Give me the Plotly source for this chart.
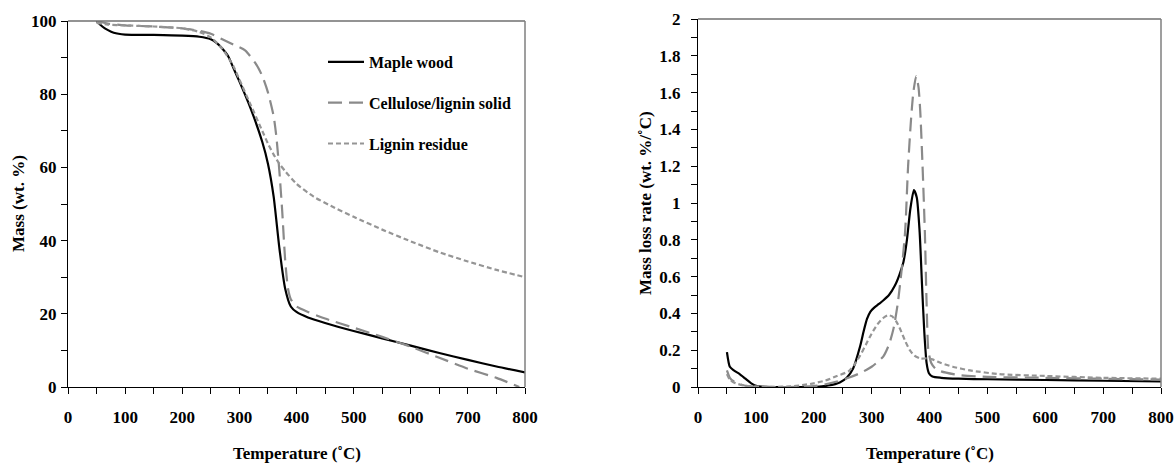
import plotly.graph_objects as go

# ---------------- TG data (Mass, wt.%) ----------------
tg_maple_T = [50, 60, 70, 80, 100, 150, 200, 230, 250, 260, 270, 280, 290, 300, 320, 340, 350, 360, 370, 380, 390, 400, 420, 450, 500, 550, 600, 650, 700, 750, 800]
tg_maple_m = [100, 98.5, 97.5, 96.8, 96.3, 96.2, 96.0, 95.7, 95.0, 94.0, 92.5, 90.5, 87.0, 83.5, 76.0, 67.0, 61.0, 52.0, 38.0, 27.0, 22.0, 20.5, 19.0, 17.5, 15.3, 13.3, 11.3, 9.3, 7.4, 5.6, 4.0]

tg_cell_T = [50, 70, 100, 150, 200, 230, 250, 270, 290, 310, 330, 340, 350, 360, 365, 370, 375, 380, 385, 390, 400, 420, 450, 500, 550, 600, 650, 700, 750, 790]
tg_cell_m = [100, 99.3, 98.8, 98.5, 98.0, 97.3, 96.5, 95.0, 93.5, 92.0, 88.0, 85.0, 80.5, 74.0, 68.0, 59.0, 48.0, 35.0, 27.0, 24.0, 22.0, 20.5, 18.7, 16.2, 13.7, 11.0, 8.0, 5.0, 2.5, 0.0]

tg_lig_T = [50, 70, 100, 150, 200, 230, 250, 270, 290, 300, 320, 340, 350, 360, 370, 380, 400, 430, 460, 500, 550, 600, 650, 700, 750, 800]
tg_lig_m = [99.5, 99.0, 98.8, 98.5, 98.0, 97.0, 95.5, 92.5, 87.5, 84.0, 77.0, 70.0, 66.5, 63.5, 61.0, 59.0, 55.5, 52.0, 49.5, 46.5, 43.0, 39.8, 36.8, 34.3, 32.0, 30.0]

# ---------------- DTG data (Mass loss rate, wt.%/°C) ----------------
dtg_maple_T = [50, 55, 62, 72, 82, 92, 102, 115, 150, 200, 225, 245, 257, 268, 280, 286, 292, 298, 304, 312, 320, 330, 340, 348, 355, 361, 367, 373, 378, 383, 387, 391, 395, 399, 405, 420, 450, 500, 600, 700, 800]
dtg_maple_v = [0.19, 0.11, 0.09, 0.07, 0.045, 0.02, 0.005, 0.001, 0.0, 0.0, 0.008, 0.025, 0.05, 0.1, 0.22, 0.3, 0.37, 0.41, 0.43, 0.45, 0.47, 0.5, 0.55, 0.61, 0.68, 0.8, 0.97, 1.07, 1.03, 0.84, 0.56, 0.3, 0.13, 0.075, 0.057, 0.05, 0.045, 0.042, 0.038, 0.034, 0.03]

dtg_cell_T = [50, 55, 62, 72, 85, 100, 150, 200, 220, 240, 260, 280, 300, 320, 330, 338, 345, 352, 358, 363, 368, 372, 377, 381, 384, 388, 392, 395, 398, 403, 410, 420, 450, 500, 600, 700, 800]
dtg_cell_v = [0.09, 0.05, 0.03, 0.015, 0.005, 0.001, 0.0, 0.005, 0.015, 0.03, 0.05, 0.075, 0.11, 0.165, 0.23, 0.32, 0.45, 0.64, 0.85, 1.2, 1.45, 1.6, 1.69, 1.63, 1.5, 1.2, 0.84, 0.45, 0.2, 0.13, 0.1, 0.085, 0.065, 0.055, 0.05, 0.045, 0.04]

dtg_lig_T = [50, 55, 65, 80, 100, 130, 160, 180, 200, 220, 240, 260, 270, 280, 290, 300, 310, 320, 328, 335, 342, 350, 358, 366, 374, 384, 395, 405, 420, 440, 470, 520, 600, 700, 800]
dtg_lig_v = [0.07, 0.04, 0.02, 0.008, 0.003, 0.001, 0.003, 0.01, 0.02, 0.035, 0.06, 0.085, 0.12, 0.17, 0.23, 0.29, 0.34, 0.375, 0.39, 0.385, 0.36, 0.31, 0.25, 0.2, 0.17, 0.155, 0.155, 0.15, 0.13, 0.11, 0.09, 0.07, 0.06, 0.05, 0.045]

series_names = ["Maple wood", "Cellulose/lignin solid", "Lignin residue"]

W, H = 1175, 466
FONT = "Liberation Serif"
BLACK = "#000000"
GREY_D = "#8a8a8a"
GREY_S = "#959595"

styles = [
    dict(color=BLACK, width=2.2, dash="solid"),
    dict(color=GREY_D, width=2.2, dash="14px,7px"),
    dict(color=GREY_S, width=2.2, dash="5px,3px"),
]

fig = go.Figure()

tg = [(tg_maple_T, tg_maple_m), (tg_cell_T, tg_cell_m), (tg_lig_T, tg_lig_m)]
dtg = [(dtg_maple_T, dtg_maple_v), (dtg_cell_T, dtg_cell_v), (dtg_lig_T, dtg_lig_v)]

for i, (x, y) in enumerate(tg):
    fig.add_trace(go.Scatter(x=x, y=y, mode="lines", name=series_names[i],
                             legendgroup=f"g{i}", showlegend=True,
                             line=dict(shape="spline", smoothing=0.6, **styles[i]),
                             xaxis="x", yaxis="y"))
for i, (x, y) in enumerate(dtg):
    fig.add_trace(go.Scatter(x=x, y=y, mode="lines", name=series_names[i],
                             legendgroup=f"g{i}", showlegend=False,
                             line=dict(shape="spline", smoothing=0.6, **styles[i]),
                             xaxis="x2", yaxis="y2"))

def px_x(a, b):
    return [a / W, b / W]

def px_y(top, bottom):
    return [1 - bottom / H, 1 - top / H]

tickfont = dict(family=FONT, size=17, color=BLACK, weight="bold")

common_axis = dict(showgrid=False, zeroline=False, showline=True, linecolor=BLACK, linewidth=1.3,
                   ticks="outside", ticklen=6, tickcolor=BLACK, tickwidth=1, tickfont=tickfont,
                   automargin=False)

fig.update_layout(
    width=W, height=H,
    margin=dict(l=0, r=0, t=0, b=0, pad=0, autoexpand=False),
    paper_bgcolor="white", plot_bgcolor="white",
    showlegend=True,
    legend=dict(x=323 / W, y=1 - 45 / H, xanchor="left", yanchor="top",
                font=dict(family=FONT, size=16, color=BLACK, weight="bold"),
                bgcolor="rgba(0,0,0,0)", traceorder="grouped", tracegroupgap=17,
                itemwidth=36),
    xaxis=dict(domain=px_x(68, 525), range=[0, 800], dtick=100, tick0=0,
               minor=dict(dtick=50, ticks="outside", ticklen=6, tickcolor=BLACK),
               ticklabelstandoff=8, anchor="y", **common_axis),
    yaxis=dict(domain=px_y(21, 387), range=[0, 100], dtick=20, tick0=0,
               minor=dict(dtick=10, ticks="outside", ticklen=6, tickcolor=BLACK),
               ticklabelstandoff=1, anchor="x", **common_axis),
    xaxis2=dict(domain=px_x(698, 1161), range=[0, 800], dtick=100, tick0=0,
                minor=dict(dtick=50, ticks="outside", ticklen=6, tickcolor=BLACK),
                ticklabelstandoff=8, anchor="y2", **common_axis),
    yaxis2=dict(domain=px_y(19, 387), range=[0, 2], dtick=0.2, tick0=0,
                minor=dict(dtick=0.1, ticks="outside", ticklen=6, tickcolor=BLACK),
                ticklabelstandoff=7, anchor="x2", **common_axis),
)

for xr, yr in [("x domain", "y domain"), ("x2 domain", "y2 domain")]:
    fig.add_shape(type="line", xref=xr, yref=yr, x0=0, x1=1, y0=1, y1=1,
                  line=dict(color="#6f6f6f", width=1.5), layer="above")
    fig.add_shape(type="line", xref=xr, yref=yr, x0=1, x1=1, y0=0, y1=1,
                  line=dict(color="#7f7f7f", width=1.5), layer="above")

title_font = dict(family=FONT, size=17, color=BLACK, weight="bold")
fig.add_annotation(text="Temperature (˚C)", xref="paper", yref="paper",
                   x=296.5 / W, y=1 - 453 / H, showarrow=False, font=title_font,
                   xanchor="center", yanchor="middle")
fig.add_annotation(text="Temperature (˚C)", xref="paper", yref="paper",
                   x=929.5 / W, y=1 - 453 / H, showarrow=False, font=title_font,
                   xanchor="center", yanchor="middle")
fig.add_annotation(text="Mass (wt. %)", xref="paper", yref="paper",
                   x=19 / W, y=1 - 204 / H, showarrow=False, font=title_font,
                   textangle=-90, xanchor="center", yanchor="middle")
fig.add_annotation(text="Mass loss rate (wt. %/˚C)", xref="paper", yref="paper",
                   x=645 / W, y=1 - 203 / H, showarrow=False, font=title_font,
                   textangle=-90, xanchor="center", yanchor="middle")

fig.write_html("out.html")
